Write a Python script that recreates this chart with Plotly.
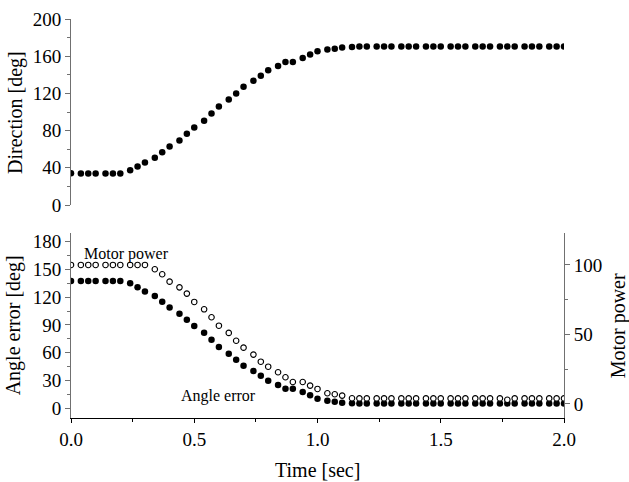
import plotly.graph_objects as go

time_s = [0.00, 0.04, 0.07, 0.10, 0.14, 0.17, 0.20, 0.24, 0.27, 0.30,
          0.34, 0.37, 0.40, 0.44, 0.47, 0.50, 0.54, 0.57, 0.60, 0.64,
          0.67, 0.70, 0.74, 0.77, 0.80, 0.84, 0.87, 0.90, 0.94, 0.97,
          1.00, 1.04, 1.07, 1.10, 1.14, 1.17, 1.20, 1.24, 1.27, 1.30,
          1.34, 1.37, 1.40, 1.44, 1.47, 1.50, 1.54, 1.57, 1.60, 1.64,
          1.67, 1.70, 1.74, 1.77, 1.80, 1.84, 1.87, 1.90, 1.94, 1.97, 2.00]

direction = [34.2, 34, 34, 34, 34, 34, 34, 37.4, 41.3, 45.6,
             50.7, 56.8, 62.9, 69.4, 76.6, 83.4, 90.6, 98.5, 106, 113.5,
             120, 127.2, 133.7, 139, 144.8, 149.5, 153.8, 153.8, 158, 161.7,
             165.3, 167.1, 167.9, 169.3, 170, 170.5, 170.5, 170.5, 170.5, 170.5,
             170.5, 170.5, 170.5, 170.5, 170.5, 170.5, 170.5, 170.5, 170.5, 170.5,
             170.5, 170.5, 170.5, 170.5, 170.5, 170.5, 170.5, 170.5, 170.5, 170.5, 170.5]

angle_error = [137.5, 137.5, 137.5, 137.5, 137.5, 137.5, 137.5, 135, 130.7, 126.3,
               121.3, 115.1, 109, 102.2, 95.7, 88.9, 81.7, 74.1, 66.2, 59,
               52.5, 46, 40.3, 35.2, 29.8, 25.2, 21.2, 21.2, 17.6, 14,
               10.2, 8.2, 7.1, 6, 5.4, 5.2, 5.2, 5.2, 5.2, 5.2,
               5.2, 5.2, 5.2, 5.2, 5.2, 5.2, 5.2, 5.2, 5.2, 5.2,
               5.2, 5.2, 5.2, 5.2, 5.2, 5.2, 5.2, 5.2, 5.2, 5.2, 5.2]

motor_power = [100, 100, 100, 100, 100, 100, 100, 100, 100, 100,
               96.9, 93.3, 88, 83.9, 79.4, 73.4, 68.1, 62.4, 56.3, 51.1,
               45.5, 40.5, 35.5, 30.4, 26.8, 22.8, 19.2, 15.8, 15.8, 13.2,
               10.8, 7.7, 7, 6, 4.1, 4, 4, 4, 4, 4,
               4, 4, 4, 4, 4, 4, 4, 4, 4, 4,
               4, 4, 4, 3, 4, 4, 4, 4, 4, 4, 4]

FONT = "Liberation Serif"
GRAY = "#707070"

fig = go.Figure()
fig.add_trace(go.Scatter(x=time_s, y=direction, mode="markers", xaxis="x", yaxis="y",
                         marker=dict(color="black", size=6.5), showlegend=False))
fig.add_trace(go.Scatter(x=time_s, y=motor_power, mode="markers", xaxis="x2", yaxis="y3",
                         marker=dict(color="white", size=5.5, line=dict(color="black", width=1.1)),
                         showlegend=False))
fig.add_trace(go.Scatter(x=time_s, y=angle_error, mode="markers", xaxis="x2", yaxis="y2",
                         marker=dict(color="black", size=6.5), showlegend=False))

tickfont = dict(family=FONT, size=19, color="black")
titlefont = dict(family=FONT, size=20, color="black")

fig.update_layout(
    width=629, height=482,
    margin=dict(l=71, r=65, t=19, b=64, autoexpand=False),
    paper_bgcolor="white", plot_bgcolor="white",
    font=dict(family=FONT, color="black", size=19),
    xaxis=dict(domain=[0, 1], anchor="y", range=[0, 2.0], visible=False),
    yaxis=dict(domain=[0.5338, 1], anchor="x", range=[0, 200], dtick=40, automargin=False,
               showgrid=False, zeroline=False, showline=True, linecolor=GRAY, linewidth=1,
               ticks="outside", ticklen=5, tickcolor=GRAY, tickfont=tickfont,
               minor=dict(dtick=20, ticks="outside", ticklen=3, tickcolor=GRAY, showgrid=False)),
    xaxis2=dict(domain=[0, 1], anchor="y2", range=[0, 2.0], dtick=0.5, tickformat=".1f",
                automargin=False,
                showgrid=False, zeroline=False, showline=True, linecolor="black", linewidth=1,
                ticks="outside", ticklen=4, tickcolor="black", tickfont=tickfont,
                minor=dict(dtick=0.25, ticks="outside", ticklen=3, tickcolor="black", showgrid=False)),
    yaxis2=dict(domain=[0, 0.4644], anchor="x2", range=[-10.5, 189.7], dtick=30, automargin=False,
                showgrid=False, zeroline=False, showline=True, linecolor=GRAY, linewidth=1,
                ticks="outside", ticklen=5, tickcolor=GRAY, tickfont=tickfont,
                minor=dict(dtick=15, ticks="outside", ticklen=3, tickcolor=GRAY, showgrid=False)),
    yaxis3=dict(overlaying="y2", anchor="x2", side="right", range=[-10.1, 123.2], dtick=50,
                automargin=False,
                showgrid=False, zeroline=False, showline=True, linecolor=GRAY, linewidth=1,
                ticks="outside", ticklen=5, tickcolor=GRAY, tickfont=tickfont,
                minor=dict(dtick=25, ticks="outside", ticklen=3, tickcolor=GRAY, showgrid=False)),
    annotations=[
        dict(text="Motor power", x=0.225, y=166.6, xref="x2", yref="y2", showarrow=False,
             font=dict(family=FONT, size=16, color="black")),
        dict(text="Angle error", x=0.598, y=13.0, xref="x2", yref="y2", showarrow=False,
             font=dict(family=FONT, size=16, color="black")),
        dict(text="Direction [deg]", x=-0.1116, y=0.767, xref="paper", yref="paper",
             textangle=-90, showarrow=False, xanchor="center", yanchor="middle",
             font=titlefont),
        dict(text="Angle error [deg]", x=-0.1177, y=0.2322, xref="paper", yref="paper",
             textangle=-90, showarrow=False, xanchor="center", yanchor="middle",
             font=titlefont),
        dict(text="Motor power", x=1.1095, y=0.2322, xref="paper", yref="paper",
             textangle=-90, showarrow=False, xanchor="center", yanchor="middle",
             font=titlefont),
        dict(text="Time [sec]", x=0.5, y=-0.1303, xref="paper", yref="paper",
             showarrow=False, xanchor="center", yanchor="middle", font=titlefont),
    ],
)

fig.write_html("out.html", config={"displayModeBar": False},
               post_script="document.body.style.margin='0';document.body.style.overflow='hidden';")
